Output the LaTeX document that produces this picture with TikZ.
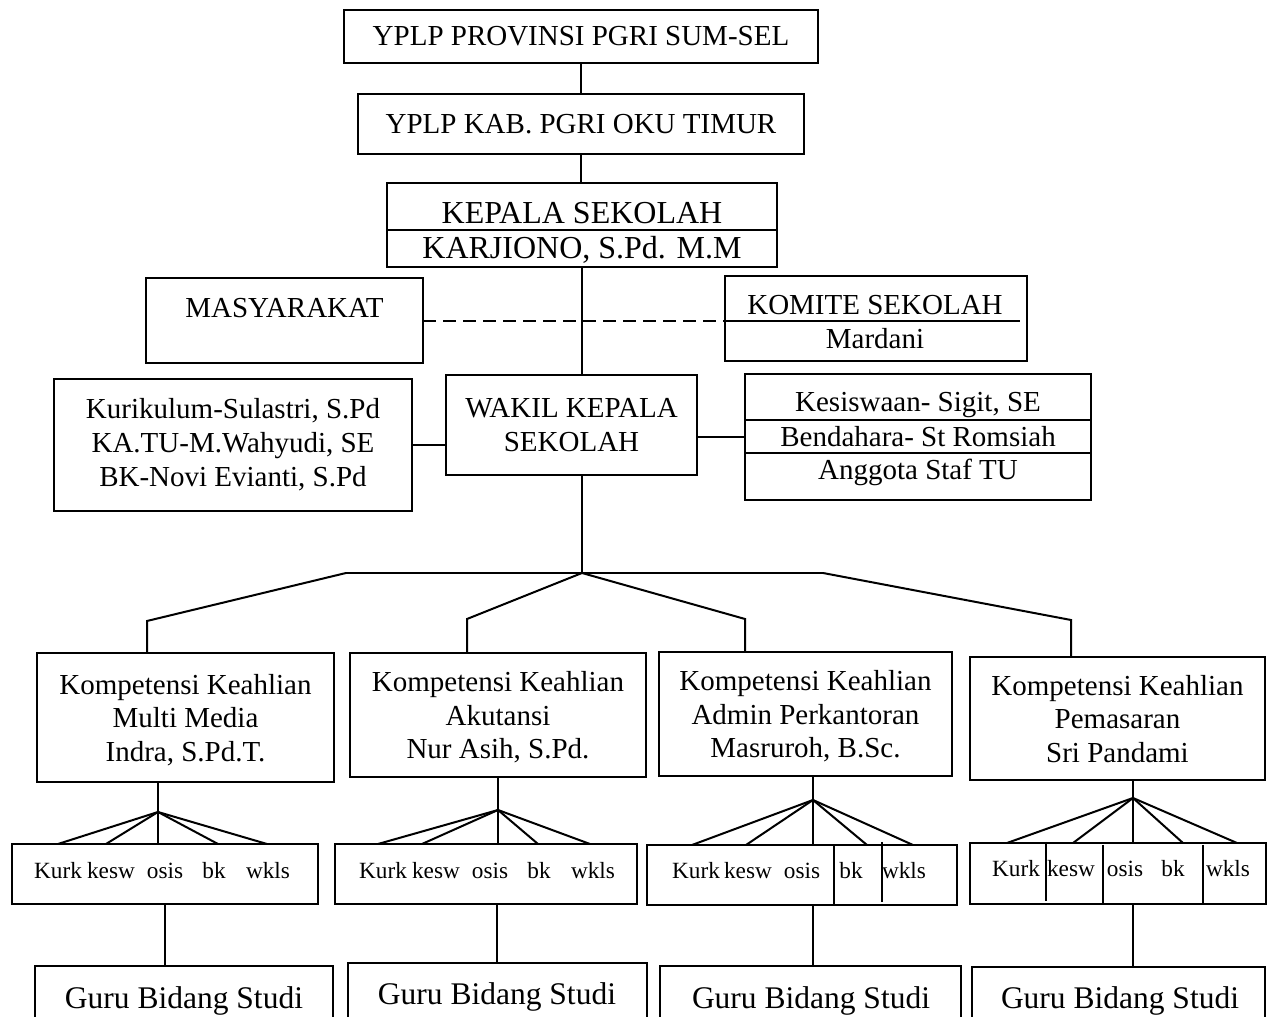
\documentclass[tikz,border=0pt]{standalone}
\usepackage{fontspec}
\setmainfont{Liberation Serif}
\usetikzlibrary{calc}
\begin{document}
\begin{tikzpicture}[x=0.4pt,y=-0.4pt, line width=0.8pt,
 bx/.style 2 args={draw, line width=0.8pt, inner sep=0pt, outer sep=0pt, minimum width=#1*0.4pt, minimum height=#2*0.4pt, align=center},
 tm/.style={font=\fontsize{11.6}{13.4}\selectfont},
 tb/.style={font=\fontsize{12.8}{14.4}\selectfont},
 tg/.style={inner sep=0pt, font=\fontsize{12.6}{14}\selectfont},
 sm/.style={inner sep=0pt, font=\fontsize{9.3}{11}\selectfont},
 tx/.style={inner sep=0pt},
 kb/.style={text depth=0pt, font=\fontsize{11.6}{13.4}\selectfont},
 dsh/.style={dash pattern=on 5pt off 3pt}
 ]
\useasboundingbox (0,0) rectangle (1275,1017);
\clip (0,0) rectangle (1275,1017);

% top chain
\node[bx={474}{53},tm] (b1) at (581,36.5) {YPLP PROVINSI PGRI SUM-SEL};
\node[bx={446}{60},tm] (b2) at (581,124) {YPLP KAB. PGRI OKU TIMUR};
\node[bx={390}{84}] (b3) at (582,225) {};
\node[tx,tb] (b3a) at (582,213) {KEPALA SEKOLAH};
\node[tx,tb] (b3b) at (582,250) {KARJIONO, S.Pd. M.M};
\draw (b3.west |- 0,230) -- (b3.east |- 0,230);

% masyarakat / komite
\node[bx={277}{85}] (mas) at (284.5,320.5) {};
\node[tx,tm] (mast) at (284.5,308) {MASYARAKAT};
\node[bx={302}{85}] (kom) at (876,318.5) {};
\node[tx,tm] (komt) at (875,305) {KOMITE SEKOLAH};
\node[tx,tm] (komn) at (875,339) {Mardani};
\draw (kom.west |- 0,321) -- ++(295,0);

% wakil row
\node[bx={251}{100},font=\fontsize{11.6}{13.6}\selectfont] (wak) at (571.5,425) {WAKIL KEPALA\\SEKOLAH};
\node[bx={358}{132},font=\fontsize{11.6}{13.6}\selectfont] (lft) at (233,445) {Kurikulum-Sulastri, S.Pd\\KA.TU-M.Wahyudi, SE\\BK-Novi Evianti, S.Pd};
\node[bx={346}{126}] (rgt) at (918,437) {};
\node[tx,tm] (r1) at (918,405) {Kesiswaan- Sigit, SE};
\node[tx,tm] (r2) at (918,437) {Bendahara- St Romsiah};
\node[tx,tm] (r3) at (918,472) {Anggota Staf TU};
\draw (rgt.west |- 0,420) -- (rgt.east |- 0,420);
\draw (rgt.west |- 0,453) -- (rgt.east |- 0,453);

% kompetensi boxes
\node[bx={297}{129},kb] (k1) at (185.5,717.5) {Kompetensi Keahlian\\Multi Media\\Indra, S.Pd.T.};
\node[bx={296}{124},kb] (k2) at (498,715) {Kompetensi Keahlian\\Akutansi\\Nur Asih, S.Pd.};
\node[bx={293}{124},kb] (k3) at (805.5,714) {Kompetensi Keahlian\\Admin Perkantoran\\Masruroh, B.Sc.};
\node[bx={295}{123},kb] (k4) at (1117.5,718.5) {Kompetensi Keahlian\\Pemasaran\\Sri Pandami};

% small boxes
\node[bx={306}{60}] (s1) at (165,874) {};
\node[bx={302}{60}] (s2) at (486,874) {};
\node[bx={310}{60}] (s3) at (802,875) {};
\node[bx={296}{61}] (s4) at (1118,873.5) {};
\foreach \x/\w [count=\i] in {58/Kurk,111/kesw,165/osis,214/bk,268/wkls}
  \node[sm] (wa\i) at (\x,871) {\w};
\foreach \x/\w [count=\i] in {383/Kurk,436/kesw,490/osis,539/bk,593/wkls}
  \node[sm] (wb\i) at (\x,871) {\w};
\foreach \x/\w [count=\i] in {696/Kurk,748/kesw,802/osis,851/bk,904/wkls}
  \node[sm] (wc\i) at (\x,871) {\w};
\foreach \x/\w [count=\i] in {1016/Kurk,1071/kesw,1125/osis,1173/bk,1228/wkls}
  \node[sm] (wd\i) at (\x,869) {\w};
\draw (s3.north -| 834,0) -- (s3.south -| 834,0);
\draw (882,842) -- (882,902);
\draw (1046,842) -- (1046,901);
\draw (1103,845) -- (1103,905);
\draw (1203,845) -- (1203,903);

% guru boxes
\node[bx={298}{94}] (g1) at (184,1013) {};
\node[bx={299}{97}] (g2) at (497,1011.5) {};
\node[bx={301}{94}] (g3) at (810.5,1013) {};
\node[bx={293}{93}] (g4) at (1118.5,1013.5) {};
\node[tg] (gt1) at (184,1001) {Guru Bidang Studi};
\node[tg] (gt2) at (497,997) {Guru Bidang Studi};
\node[tg] (gt3) at (811,1001) {Guru Bidang Studi};
\node[tg] (gt4) at (1120,1001) {Guru Bidang Studi};

% connectors top
\draw (b1.south) -- (b2.north);
\draw (b2.south) -- (b2.south |- b3.north);
\draw (b3.south) -- (b3.south |- wak.north);
\draw[dsh] (mas.east |- 0,321) -- (kom.west |- 0,321);
\draw (lft.east) -- (lft.east -| wak.west);
\draw (wak.east |- rgt.west) -- (rgt.west);

% main fan
\coordinate (apex) at (582,573);
\coordinate (L) at (346,573);
\coordinate (R) at (823,573);
\coordinate (t1) at (147,621);
\coordinate (t2) at (467,619);
\coordinate (t3) at (745,619);
\coordinate (t4) at (1071,620);
\draw (apex |- wak.south) -- (apex);
\draw (L) -- (R);
\draw (L) -- (t1) -- (t1 |- k1.north);
\draw (apex) -- (t2) -- (t2 |- k2.north);
\draw (apex) -- (t3) -- (t3 |- k3.north);
\draw (R) -- (t4) -- (t4 |- k4.north);

% sub fans
\coordinate (a1) at (158,812);
\coordinate (a2) at (498,810);
\coordinate (a3) at (813,800);
\coordinate (a4) at (1133,798);
\draw (a1 |- k1.south) -- (a1);
\draw (a2 |- k2.south) -- (a2);
\draw (a3 |- k3.south) -- (a3);
\draw (a4 |- k4.south) -- (a4);
\foreach \x in {58,106,158,218,267} \draw (a1) -- (s1.north -| \x,0);
\foreach \x in {378,422,498,538,590} \draw (a2) -- (s2.north -| \x,0);
\foreach \x in {692,746,813,867,913} \draw (a3) -- (s3.north -| \x,0);
\foreach \x in {1007,1073,1133,1183,1237} \draw (a4) -- (s4.north -| \x,0);

% to guru
\draw (s1.south) -- (s1.south |- g1.north);
\draw (s2.south -| 497,0) -- (g2.north -| 497,0);
\draw (s3.south -| 813,0) -- (g3.north -| 813,0);
\draw (s4.south -| 1133,0) -- (g4.north -| 1133,0);
\end{tikzpicture}
\end{document}
